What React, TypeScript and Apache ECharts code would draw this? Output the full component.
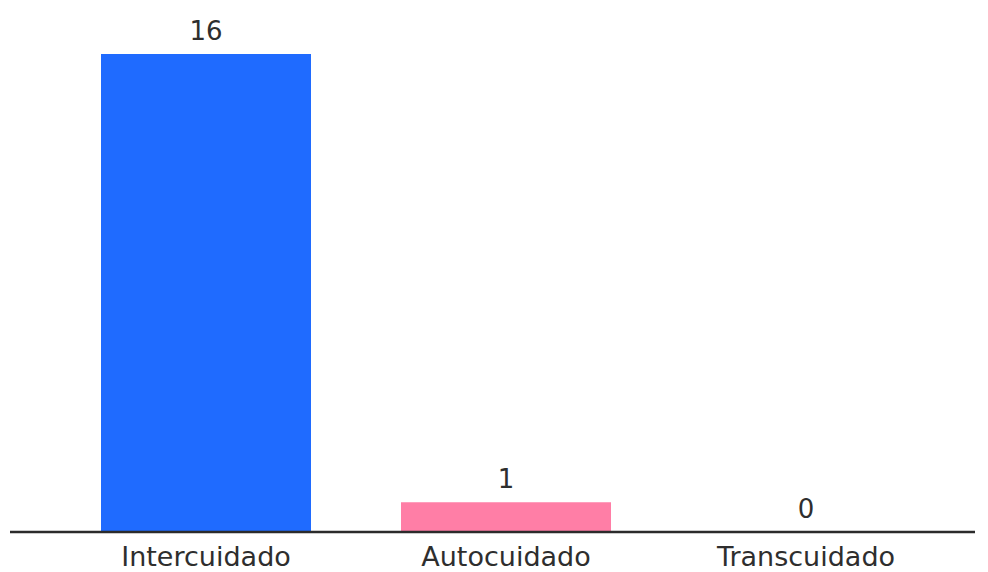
import React, { useEffect, useRef } from "react";
import * as echarts from "echarts";

// Care types and how many entries fall into each
const categories = ["Intercuidado", "Autocuidado", "Transcuidado"];
const counts = [16, 1, 0];

const barColors = ["#1F6BFF", "#FF7EA6", "#8E8E8E"];

export default function App() {
  const ref = useRef<HTMLDivElement>(null);

  useEffect(() => {
    if (!ref.current) return;
    const chart = echarts.init(ref.current, null, { renderer: "svg" });
    const font = "'DejaVu Sans', 'Noto Sans', sans-serif";
    chart.setOption({
      animation: false,
      backgroundColor: "#ffffff",
      grid: { left: 56, right: 32, top: 54, bottom: 40, containLabel: false },
      xAxis: {
        type: "category",
        data: categories,
        axisLine: { show: false },
        axisTick: { show: false },
        axisLabel: {
          color: "#2e2e2e",
          fontSize: 27,
          fontFamily: font,
          margin: 11,
        },
      },
      yAxis: {
        type: "value",
        min: 0,
        max: 16,
        show: false,
        splitLine: { show: false },
      },
      graphic: [
        {
          type: "line",
          shape: { x1: 10, y1: 532, x2: 975, y2: 532 },
          style: { stroke: "#2b2b2b", lineWidth: 2.5 },
          z: 10,
        },
      ],
      series: [
        {
          type: "bar",
          barWidth: "70%",
          data: counts.map((v, i) => ({
            value: v,
            itemStyle: { color: barColors[i] },
          })),
          label: {
            show: true,
            position: "top",
            distance: 10,
            color: "#2e2e2e",
            fontSize: 26,
            fontFamily: font,
          },
        },
      ],
    });
    return () => chart.dispose();
  }, []);

  return (
    <div
      ref={ref}
      style={{ position: "absolute", left: 0, top: 0, width: 988, height: 572 }}
    />
  );
}
